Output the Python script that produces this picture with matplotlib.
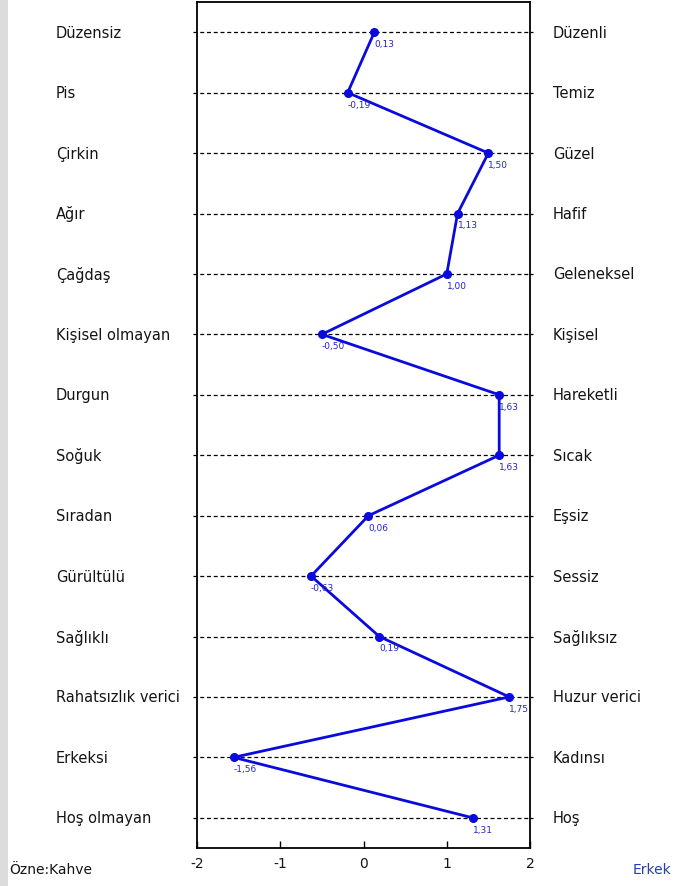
import numpy as np
import matplotlib
matplotlib.use("Agg")
import matplotlib.pyplot as plt
from matplotlib.patches import Rectangle

# semantic differential pairs (negative pole, positive pole) and mean scores
left_labels = ["Düzensiz", "Pis", "Çirkin", "Ağır", "Çağdaş", "Kişisel olmayan",
               "Durgun", "Soğuk", "Sıradan", "Gürültülü", "Sağlıklı",
               "Rahatsızlık verici", "Erkeksi", "Hoş olmayan"]
right_labels = ["Düzenli", "Temiz", "Güzel", "Hafif", "Geleneksel", "Kişisel",
                "Hareketli", "Sıcak", "Eşsiz", "Sessiz", "Sağlıksız",
                "Huzur verici", "Kadınsı", "Hoş"]
scores = [0.13, -0.19, 1.50, 1.13, 1.00, -0.50, 1.63, 1.63, 0.06, -0.63,
          0.19, 1.75, -1.56, 1.31]
xticks = [-2, -1, 0, 1, 2]

line_col = "#0a0adc"
text_col = "#141414"
rows = np.arange(len(scores))

fig = plt.figure(figsize=(6.88, 8.87), dpi=100)
fig.patches.append(Rectangle((0, 0), 8 / 688, 1, transform=fig.transFigure,
                             facecolor="#dcdcdc", edgecolor="none"))
ax = fig.add_axes([197 / 688, 1 - 849 / 887, 333 / 688, 846 / 887])
ax.set_xlim(-2, 2)
ax.set_ylim(13.5, -0.5)

for r in rows:
    ax.plot([-2.05, 2.04], [r, r], color="black", lw=0.9, ls=(0, (3.2, 2.2)),
            clip_on=False, zorder=1)

ax.plot(scores, rows, color=line_col, lw=2, marker="o", ms=5.5, zorder=3)
for s, r in zip(scores, rows):
    ax.annotate(f"{s:.2f}".replace(".", ","), (s, r), xytext=(0, -5),
                textcoords="offset points", ha="left", va="top",
                fontsize=6.5, color="#2424c8", zorder=4)

ax.set_yticks([])
ax.set_xticks(xticks)
ax.set_xticklabels([str(t) for t in xticks], fontsize=10, color=text_col)
ax.tick_params(axis="x", direction="in", length=5, width=1, pad=6)
for sp in ax.spines.values():
    sp.set_linewidth(1.3)

for r, (lt, rt) in enumerate(zip(left_labels, right_labels)):
    y = ax.transData.transform((0, r))[1]
    yf = fig.transFigure.inverted().transform((0, y))[1]
    fig.text(56 / 688, yf, lt, ha="left", va="center", fontsize=10.5, color=text_col)
    fig.text(553 / 688, yf, rt, ha="left", va="center", fontsize=10.5, color=text_col)

fig.text(9 / 688, 1 - 870 / 887, "Özne:Kahve", ha="left", va="center",
         fontsize=10, color=text_col)
fig.text(633 / 688, 1 - 870 / 887, "Erkek", ha="left", va="center",
         fontsize=10, color="#2540a8")

fig.savefig("out.png", dpi=100)
